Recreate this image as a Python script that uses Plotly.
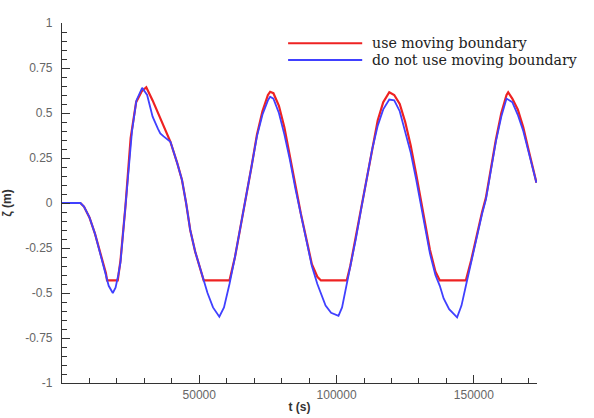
import plotly.graph_objects as go

# Time (s) and surface elevation (m)
t_moving = [0, 3000, 6700, 8000, 10000, 12000, 14000, 16000, 16400, 18500, 20300,
            21300, 23100, 25000, 27000, 29000, 30700, 33000, 35000, 37000, 39500,
            42000, 43700, 45200, 46700, 48500, 50400, 51600, 55000, 58000, 61000,
            63000, 65000, 67000, 69000, 71000, 73000, 75000, 75800, 77000, 79000,
            81000, 83000, 85000, 87000, 89000, 91000, 93000, 94300, 98000, 101000,
            103700, 105000, 107000, 109000, 111000, 113000, 115000, 117000, 119200,
            121000, 123000, 125000, 127000, 129000, 130400, 132000, 134000, 136000,
            137600, 141000, 144000, 147100, 149000, 151000, 153000, 154400, 156000,
            158000, 160000, 161900, 162500, 164000, 166000, 168000, 170000, 172800]
z_moving = [0.0, 0.0, 0.0, -0.02, -0.08, -0.17, -0.28, -0.39, -0.43, -0.43, -0.43,
            -0.32, -0.02, 0.36, 0.56, 0.62, 0.643, 0.57, 0.50, 0.43, 0.34,
            0.22, 0.128, 0.0, -0.15, -0.27, -0.37, -0.43, -0.43, -0.43, -0.43,
            -0.30, -0.14, 0.03, 0.20, 0.38, 0.51, 0.60, 0.618, 0.61, 0.54,
            0.42, 0.27, 0.10, -0.06, -0.21, -0.34, -0.41, -0.43, -0.43, -0.43,
            -0.43, -0.35, -0.19, -0.02, 0.15, 0.31, 0.46, 0.56, 0.615,
            0.60, 0.55, 0.45, 0.32, 0.16, 0.04, -0.10, -0.26, -0.38,
            -0.43, -0.43, -0.43, -0.43, -0.32, -0.18, -0.05, 0.03, 0.17,
            0.35, 0.50, 0.60, 0.615, 0.58, 0.52, 0.42, 0.29, 0.113]

t_fixed = [0, 3000, 6700, 8000, 10000, 12000, 14000, 16000, 17000, 18500, 19500,
           20500, 21300, 23100, 25500, 27100, 29200, 31000, 33000, 35000, 35800,
           37000, 39500, 42000, 43700, 45200, 46700, 48500, 50400, 51600, 53000,
           55000, 57300, 59000, 61000, 63000, 65000, 67000, 69000, 71000, 73000,
           75000, 75800, 77000, 79000, 81000, 83000, 85000, 87000, 89000, 91000,
           93000, 94300, 96000, 98000, 100700, 102000, 103700, 105000, 107000,
           109000, 111000, 113000, 115000, 117000, 119200, 121000, 123000, 125000,
           127000, 129000, 130400, 132000, 134000, 136000, 137600, 139000, 141000,
           143900, 145500, 147100, 149000, 151000, 153000, 154400, 156000, 158000,
           160000, 161900, 164000, 166000, 168000, 170000, 172800]
z_fixed = [0.0, 0.0, 0.0, -0.02, -0.08, -0.17, -0.28, -0.39, -0.46, -0.50, -0.47,
           -0.40, -0.33, -0.02, 0.40, 0.57, 0.64, 0.60, 0.48, 0.41, 0.387,
           0.37, 0.34, 0.22, 0.128, 0.0, -0.15, -0.27, -0.37, -0.43, -0.50,
           -0.58, -0.632, -0.58, -0.45, -0.30, -0.14, 0.03, 0.20, 0.37, 0.49,
           0.57, 0.59, 0.58, 0.50, 0.38, 0.24, 0.08, -0.07, -0.22, -0.35,
           -0.45, -0.50, -0.57, -0.61, -0.627, -0.58, -0.45, -0.36, -0.20,
           -0.03, 0.14, 0.30, 0.43, 0.52, 0.575, 0.57, 0.51, 0.40,
           0.28, 0.13, 0.02, -0.12, -0.28, -0.40, -0.46, -0.53, -0.59,
           -0.635, -0.57, -0.46, -0.33, -0.19, -0.06, 0.02, 0.16, 0.34,
           0.48, 0.58, 0.56, 0.49, 0.40, 0.28, 0.113]

names = ["use moving boundary", "do not use moving boundary"]
colors = ["#ee2222", "#4040ff"]
x_ticks = [50000, 100000, 150000]
x_tick_labels = ["50000", "100000", "150000"]
y_ticks = [-1, -0.75, -0.5, -0.25, 0, 0.25, 0.5, 0.75, 1]
y_tick_labels = ["-1", "-0.75", "-0.5", "-0.25", "0", "0.25", "0.5", "0.75", "1"]

fig = go.Figure()
fig.add_trace(go.Scatter(x=t_moving, y=z_moving, name=names[0], mode="lines",
                         line=dict(color=colors[0], width=2.2)))
fig.add_trace(go.Scatter(x=t_fixed, y=z_fixed, name=names[1], mode="lines",
                         line=dict(color=colors[1], width=1.8)))

axis_common = dict(showline=True, linecolor="#333333", linewidth=1.2,
                   ticks="inside", ticklen=8, tickcolor="#333333", tickwidth=1,
                   showgrid=False, zeroline=False, mirror=False, automargin=False,
                   tickfont=dict(family="Liberation Sans, Arial", size=12, color="#666666"))

fig.update_xaxes(range=[0, 173000], tickvals=x_ticks, ticktext=x_tick_labels,
                 minor=dict(dtick=10000, ticks="inside", ticklen=5, tickcolor="#333333"),
                 title=dict(text="<b>t (s)</b>", standoff=2,
                            font=dict(family="Liberation Sans, Arial", size=12, color="#333333")),
                 **axis_common)
fig.update_yaxes(range=[-1, 1], tickvals=y_ticks, ticktext=y_tick_labels,
                 ticklabelstandoff=6,
                 minor=dict(dtick=0.05, ticks="inside", ticklen=5, tickcolor="#333333"),
                 title=dict(text="<b>ζ (m)</b>", standoff=14,
                            font=dict(family="Liberation Sans, Arial", size=12, color="#333333")),
                 **axis_common)

# Manual legend (line samples + labels) placed in paper coordinates
legend_y = [0.944, 0.897]
for name, color, ly in zip(names, colors, legend_y):
    fig.add_shape(type="line", xref="paper", yref="paper",
                  x0=0.476, x1=0.632, y0=ly, y1=ly,
                  line=dict(color=color, width=2))
    fig.add_annotation(xref="paper", yref="paper", x=0.648, y=ly,
                       xanchor="left", yanchor="middle", showarrow=False,
                       text=name,
                       font=dict(family="DejaVu Serif", size=14.2, color="#222222"))

fig.update_layout(
    width=594, height=418,
    margin=dict(l=62, r=57, t=23, b=35),
    paper_bgcolor="white", plot_bgcolor="white",
    showlegend=False,
)

fig.write_html("out.html")
